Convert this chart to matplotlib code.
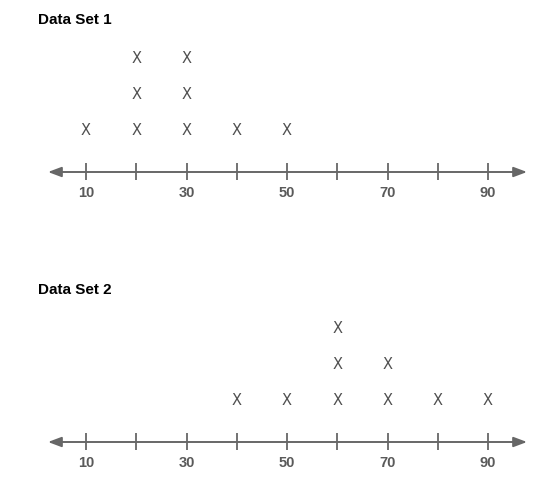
import matplotlib
matplotlib.use("Agg")
import matplotlib.pyplot as plt
from collections import Counter

titles = ["Data Set 1", "Data Set 2"]
data_set_1 = [10, 20, 20, 20, 30, 30, 30, 40, 50]
data_set_2 = [40, 50, 60, 60, 60, 70, 70, 80, 90]
tick_positions = [10, 20, 30, 40, 50, 60, 70, 80, 90]
tick_labels = ["10", "", "30", "", "50", "", "70", "", "90"]

W, H = 547, 492
fig = plt.figure(figsize=(W / 100, H / 100), dpi=100)
fig.patch.set_facecolor("white")

px_per_unit = 5.025
x0_px = 86
xmin = 10 - x0_px / px_per_unit
xmax = 10 + (W - x0_px) / px_per_unit
row_px = 36.0

# (top px, bottom px, axis-line px, title px)
panels = [(0, 246, 172, 20), (246, 492, 442, 290)]
line_color = "#676767"
mark_color = "#505050"

for (top, bot, line_px, title_px), title, data in zip(panels, titles, [data_set_1, data_set_2]):
    ax = fig.add_axes([0, 1 - bot / H, 1, (bot - top) / H])
    ax.set_xlim(xmin, xmax)
    ax.set_ylim(-(bot - line_px) / row_px, (line_px - top) / row_px)
    ax.axis("off")

    # number line with arrows
    ax.annotate("", xy=(10 + (48 - x0_px) / px_per_unit, 0),
                xytext=(10 + (527 - x0_px) / px_per_unit, 0),
                arrowprops=dict(arrowstyle="<|-|>,head_length=0.8,head_width=0.3",
                                color=line_color, lw=1.4, shrinkA=0, shrinkB=0))
    ax.vlines(tick_positions, -8 / row_px, 9 / row_px, color=line_color, lw=1.3)
    for t, lab in zip(tick_positions, tick_labels):
        if lab:
            ax.text(t, -21 / row_px, lab, ha="center", va="center",
                    fontsize=10.5, fontweight="bold", color="#5a5a5a",
                    family="Liberation Sans")

    counts = Counter()
    for v in data:
        counts[v] += 1
        k = counts[v]
        ax.text(v, k + 0.16, "X", ha="center", va="center", fontsize=10.5,
                color=mark_color, family="DejaVu Sans")

    ax.text(10 + (38 - x0_px) / px_per_unit, (line_px - title_px) / row_px, title,
            ha="left", va="center", fontsize=11, fontweight="bold", color="black",
            family="Liberation Sans")

fig.savefig("out.png", dpi=100, facecolor="white")
